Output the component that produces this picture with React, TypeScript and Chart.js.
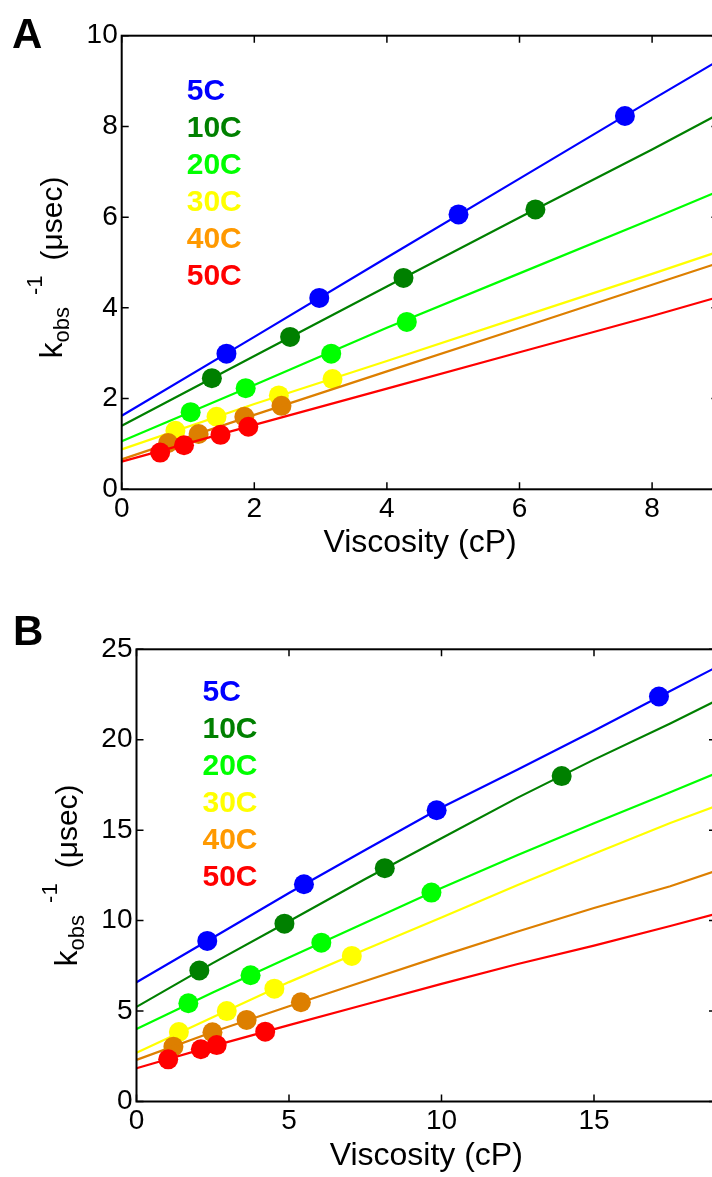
import React, { useEffect, useRef } from 'react';
import { Chart, registerables } from 'chart.js';

Chart.register(...registerables);

// ---------------- data ----------------
const SERIES = ['5C', '10C', '20C', '30C', '40C', '50C'];

// Panel A
const A_X_TICKS = [0, 2, 4, 6, 8];
const A_Y_TICKS = [0, 2, 4, 6, 8, 10];
const A_POINT_X = [
  [1.58, 2.98, 5.08, 7.59],
  [1.36, 2.54, 4.25, 6.24],
  [1.04, 1.87, 3.16, 4.3],
  [0.81, 1.43, 2.37, 3.18],
  [0.7, 1.16, 1.85, 2.41],
  [0.58, 0.94, 1.49, 1.91],
];
const A_POINT_Y = [
  [2.99, 4.22, 6.06, 8.23],
  [2.45, 3.36, 4.66, 6.17],
  [1.7, 2.23, 2.99, 3.69],
  [1.29, 1.6, 2.07, 2.43],
  [1.02, 1.22, 1.6, 1.84],
  [0.81, 0.97, 1.2, 1.38],
];
const A_LINE_X = [0, 2, 4, 6, 8, 9];
const A_LINE_Y = [
  [1.62, 3.36, 5.11, 6.85, 8.59, 9.45],
  [1.4, 2.94, 4.47, 5.99, 7.49, 8.27],
  [1.06, 2.3, 3.56, 4.76, 5.96, 6.57],
  [0.88, 1.88, 2.83, 3.79, 4.75, 5.24],
  [0.66, 1.64, 2.6, 3.55, 4.51, 4.99],
  [0.61, 1.42, 2.22, 3.02, 3.82, 4.24],
];

// Panel B
const B_X_TICKS = [0, 5, 10, 15];
const B_Y_TICKS = [0, 5, 10, 15, 20, 25];
const B_POINT_X = [
  [2.32, 5.49, 9.84, 17.13],
  [2.06, 4.85, 8.14, 13.94],
  [1.7, 3.74, 6.06, 9.67],
  [1.39, 2.96, 4.52, 7.06],
  [1.21, 2.49, 3.61, 5.39],
  [1.04, 2.11, 2.63, 4.22],
];
const B_POINT_Y = [
  [8.88, 12.01, 16.1, 22.39],
  [7.24, 9.83, 12.9, 17.99],
  [5.43, 6.98, 8.78, 11.55],
  [3.84, 5.0, 6.24, 8.05],
  [3.03, 3.83, 4.51, 5.49],
  [2.33, 2.89, 3.12, 3.86],
];
const B_LINE_X = [0, 2.5, 5, 7.5, 10, 12.5, 15, 17.5, 19];
const B_LINE_Y = [
  [6.59, 9.05, 11.53, 13.9, 16.25, 18.35, 20.5, 22.7, 24.0],
  [5.23, 7.65, 9.97, 12.3, 14.55, 16.8, 18.9, 20.9, 22.15],
  [4.01, 6.03, 7.96, 9.88, 11.8, 13.63, 15.38, 17.1, 18.15],
  [2.7, 4.66, 6.6, 8.4, 10.17, 11.97, 13.7, 15.4, 16.33],
  [2.3, 3.84, 5.27, 6.66, 8.05, 9.4, 10.7, 11.9, 12.75],
  [1.84, 3.06, 4.22, 5.36, 6.5, 7.6, 8.62, 9.7, 10.38],
];

// ---------------- styles ----------------
const FONT = "'Liberation Sans', Arial, Helvetica, sans-serif";
const COLORS = ['#0000ff', '#008000', '#00ff00', '#ffff00', '#dd7f00', '#ff0000'];
const LEGEND_COLORS = ['#0000ff', '#008000', '#00ff00', '#ffff00', '#ff9900', '#ff0000'];
const CANVAS_W = 760;
const TICK_FONT = 28;
const TITLE_FONT = 32;
const LEGEND_FONT = 30;

type PanelCfg = {
  letter: string;
  canvasTop: number;
  canvasHeight: number;
  areaLeft: number;
  areaTop: number;
  areaRight: number;
  areaBottom: number;
  xMax: number;
  yMax: number;
  xTicks: number[];
  yTicks: number[];
  pointX: number[][];
  pointY: number[][];
  lineX: number[];
  lineY: number[][];
  letterX: number;
  letterBaseline: number;
  legendDx: number;
  legendDy: number;
  yTitleShift: number;
};

const PANELS: PanelCfg[] = [
  {
    letter: 'A', canvasTop: 0, canvasHeight: 590,
    areaLeft: 121.7, areaTop: 35.7, areaRight: 718.4, areaBottom: 489.3,
    xMax: 9, yMax: 10, xTicks: A_X_TICKS, yTicks: A_Y_TICKS,
    pointX: A_POINT_X, pointY: A_POINT_Y, lineX: A_LINE_X, lineY: A_LINE_Y,
    letterX: 12, letterBaseline: 48, legendDx: 65, legendDy: 56, yTitleShift: 5,
  },
  {
    letter: 'B', canvasTop: 590, canvasHeight: 587,
    areaLeft: 136.5, areaTop: 59.3, areaRight: 716, areaBottom: 511.5,
    xMax: 19, yMax: 25, xTicks: B_X_TICKS, yTicks: B_Y_TICKS,
    pointX: B_POINT_X, pointY: B_POINT_Y, lineX: B_LINE_X, lineY: B_LINE_Y,
    letterX: 13, letterBaseline: 55, legendDx: 66, legendDy: 43.4, yTitleShift: 0,
  },
];

const framePlugin = {
  id: 'frame',
  afterDatasetsDraw(chart: any, _args: any, opts: any) {
    const { ctx, chartArea: a, scales } = chart;
    ctx.save();
    ctx.strokeStyle = '#000';
    // inward ticks on all four sides
    const tl = 7;
    ctx.lineWidth = 1.5;
    ctx.beginPath();
    for (const t of scales.x.ticks) {
      const px = scales.x.getPixelForValue(t.value);
      ctx.moveTo(px, a.bottom);
      ctx.lineTo(px, a.bottom - tl);
      ctx.moveTo(px, a.top);
      ctx.lineTo(px, a.top + tl);
    }
    for (const t of scales.y.ticks) {
      const py = scales.y.getPixelForValue(t.value);
      ctx.moveTo(a.left, py);
      ctx.lineTo(a.left + tl, py);
      ctx.moveTo(a.right, py);
      ctx.lineTo(a.right - tl, py);
    }
    ctx.stroke();
    ctx.lineWidth = 2;
    ctx.strokeRect(a.left, a.top, a.right - a.left, a.bottom - a.top);

    // legend texts
    ctx.font = `bold ${LEGEND_FONT}px ${FONT}`;
    ctx.textAlign = 'left';
    ctx.textBaseline = 'middle';
    SERIES.forEach((s, i) => {
      ctx.fillStyle = LEGEND_COLORS[i];
      ctx.fillText(s, a.left + opts.legendDx, a.top + opts.legendDy + i * 37);
    });

    // panel letter
    ctx.fillStyle = '#000';
    ctx.textBaseline = 'alphabetic';
    ctx.font = `bold 42px ${FONT}`;
    ctx.fillText(opts.letter, opts.letterX, opts.letterBaseline);

    // x title
    ctx.font = `${TITLE_FONT}px ${FONT}`;
    ctx.textAlign = 'center';
    ctx.fillText('Viscosity (cP)', (a.left + a.right) / 2, a.bottom + 63);

    // y title (rotated, with sub/superscript)
    const pieces = [
      { t: 'k', size: TITLE_FONT, dy: 0, gap: 0 },
      { t: 'obs', size: 22, dy: 7, gap: 0 },
      { t: '-1', size: 22, dy: -20, gap: 12 },
      { t: '(\u03bcsec)', size: 30, dy: 0, gap: 15 },
    ];
    let total = 0;
    const widths = pieces.map((p) => {
      ctx.font = `${p.size}px ${FONT}`;
      const w = ctx.measureText(p.t).width;
      total += w + p.gap;
      return w;
    });
    ctx.save();
    ctx.translate(a.left - 60, (a.top + a.bottom) / 2 + opts.yTitleShift);
    ctx.rotate(-Math.PI / 2);
    ctx.textAlign = 'left';
    let cur = -total / 2;
    pieces.forEach((p, i) => {
      cur += p.gap;
      ctx.font = `${p.size}px ${FONT}`;
      ctx.fillText(p.t, cur, p.dy);
      cur += widths[i];
    });
    ctx.restore();
    ctx.restore();
  },
};

function Panel({ cfg }: { cfg: PanelCfg }) {
  const ref = useRef<HTMLCanvasElement>(null);
  useEffect(() => {
    const canvas = ref.current!;
    const datasets: any[] = [];
    SERIES.forEach((name, i) => {
      datasets.push({
        label: name + ' points',
        data: cfg.pointX[i].map((x, j) => ({ x, y: cfg.pointY[i][j] })),
        backgroundColor: COLORS[i],
        borderWidth: 0,
        pointRadius: 10,
        pointHoverRadius: 10,
        showLine: false,
      });
      datasets.push({
        label: name + ' fit',
        data: cfg.lineX.map((x, j) => ({ x, y: cfg.lineY[i][j] })),
        borderColor: COLORS[i],
        backgroundColor: COLORS[i],
        borderWidth: 2.2,
        pointRadius: 0,
        pointHoverRadius: 0,
        showLine: true,
        tension: 0,
      });
    });
    datasets.forEach((d, k) => (d.order = 100 - k));

    const chart = new Chart(canvas, {
      type: 'scatter',
      data: { datasets },
      plugins: [framePlugin],
      options: {
        animation: false,
        responsive: false,
        devicePixelRatio: 1,
        events: [],
        layout: {
          padding: {
            left: 0,
            top: cfg.areaTop,
            right: CANVAS_W - cfg.areaRight,
            bottom: 0,
          },
        },
        plugins: {
          legend: { display: false },
          tooltip: { enabled: false },
          title: { display: false },
          frame: {
            legendDx: cfg.legendDx,
            legendDy: cfg.legendDy,
            letter: cfg.letter,
            letterX: cfg.letterX,
            letterBaseline: cfg.letterBaseline,
            yTitleShift: cfg.yTitleShift,
          },
        } as any,
        scales: {
          x: {
            type: 'linear',
            min: 0,
            max: cfg.xMax,
            grid: { display: false, drawTicks: false },
            border: { display: false },
            afterBuildTicks: (s: any) => {
              s.ticks = cfg.xTicks.map((v) => ({ value: v }));
            },
            afterFit: (s: any) => {
              s.height = cfg.canvasHeight - cfg.areaBottom;
            },
            ticks: {
              color: '#000',
              font: { family: FONT, size: TICK_FONT },
              padding: 3,
              maxRotation: 0,
              autoSkip: false,
            },
          },
          y: {
            type: 'linear',
            min: 0,
            max: cfg.yMax,
            grid: { display: false, drawTicks: false },
            border: { display: false },
            afterBuildTicks: (s: any) => {
              s.ticks = cfg.yTicks.map((v) => ({ value: v }));
            },
            afterFit: (s: any) => {
              s.width = cfg.areaLeft;
            },
            ticks: {
              color: '#000',
              font: { family: FONT, size: TICK_FONT },
              padding: 4,
              autoSkip: false,
            },
          },
        },
      } as any,
    });
    return () => chart.destroy();
  }, [cfg]);
  return (
    <canvas
      ref={ref}
      width={CANVAS_W}
      height={cfg.canvasHeight}
      style={{
        position: 'absolute',
        left: 0,
        top: cfg.canvasTop,
        width: CANVAS_W,
        height: cfg.canvasHeight,
        display: 'block',
      }}
    />
  );
}

export default function App() {
  return (
    <div
      style={{
        position: 'absolute',
        left: 0,
        top: 0,
        width: 712,
        height: 1177,
        overflow: 'hidden',
        background: '#ffffff',
      }}
    >
      {PANELS.map((p) => (
        <Panel key={p.letter} cfg={p} />
      ))}
    </div>
  );
}
